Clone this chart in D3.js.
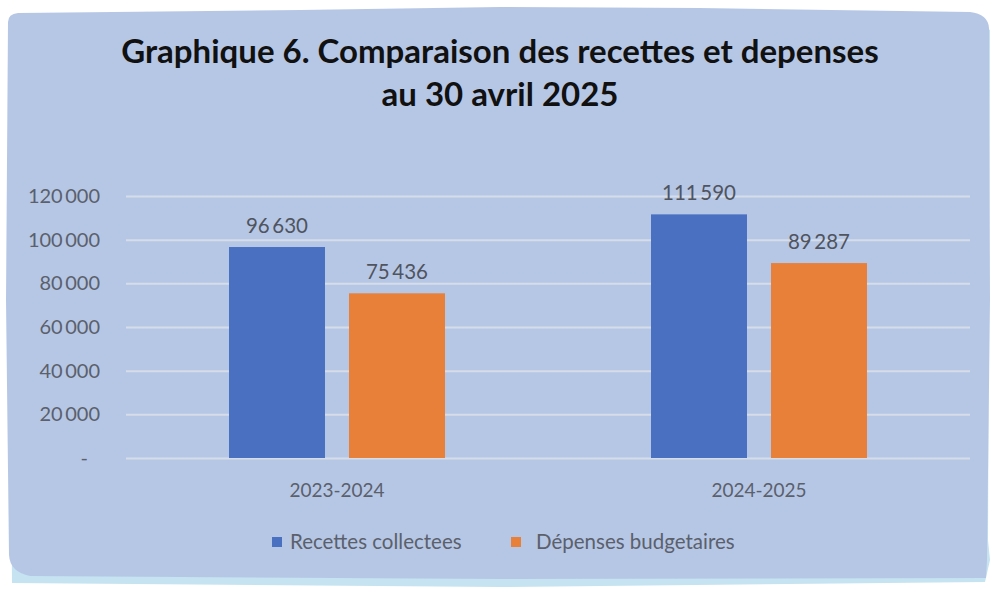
<!DOCTYPE html>
<html><head><meta charset="utf-8">
<script src="https://cdn.jsdelivr.net/npm/d3@7"></script>
<style>
body{margin:0;background:#fff;}
svg{display:block;}
text{font-family:Lato,"Open Sans",sans-serif;}
</style></head>
<body>
<svg id="c" width="1000" height="595"></svg>
<script>
const titleLines = ["Graphique 6. Comparaison des recettes et depenses", "au 30 avril 2025"];
const categories = ["2023-2024", "2024-2025"];
const seriesNames = ["Recettes collectees", "Dépenses budgetaires"];
const recettes = [96630, 111590];
const depenses = [75436, 89287];
const yTicks = [0, 20000, 40000, 60000, 80000, 100000, 120000];
const colors = ["#4a70c2", "#e8803a"];

const svg = d3.select("#c");
// torn-paper panel
svg.append("path")
  .attr("d", "M12,583 L500,587 L985,582 L990,560 L988,540 L990,30 L975,20 L500,8 L20,20 L8,40 L12,583 Z")
  .attr("fill", "#c5e3f0");
svg.append("path")
  .attr("d", "M8,22 Q8,14 18,13 L300,10 L500,7 L700,8 L970,12 Q988,14 989,28 L990,300 L987,560 L986,578 L500,579 L30,576 Q10,572 9,555 L6,300 Z")
  .attr("fill", "#b6c7e6");

const fmt = v => v === 0 ? "-" : d3.format(",")(v).replace(/,/g, "\u2009");

svg.selectAll(".title").data(titleLines).join("text")
  .attr("x", 500).attr("y", (d, i) => 63 + i * 43)
  .attr("text-anchor", "middle")
  .attr("font-size", 33).attr("font-weight", "bold").attr("fill", "#111")
  .text(d => d);

const x0 = d3.scaleBand().domain(categories).range([126, 970]).paddingInner(0).paddingOuter(0);
const x1 = d3.scaleBand().domain(seriesNames).range([x0.bandwidth() / 2 - 108, x0.bandwidth() / 2 + 108]).paddingInner(0.2);
const y = d3.scaleLinear().domain([0, 120000]).range([458, 196]);

const yAxis = d3.axisLeft(y).tickValues(yTicks).tickSize(-(970 - 126)).tickFormat(fmt);
const gy = svg.append("g").attr("transform", "translate(126,0)").call(yAxis);
gy.select(".domain").remove();
gy.selectAll(".tick line").attr("stroke", "#d6dde9").attr("stroke-width", 2);
gy.selectAll(".tick text").attr("x", d => d === 0 ? -38 : -26).attr("font-size", 20).attr("fill", "#5b606b");

const xAxis = d3.axisBottom(x0).tickSize(0);
const gx = svg.append("g").attr("transform", "translate(0,458)").call(xAxis);
gx.select(".domain").remove();
gx.selectAll(".tick text").attr("dy", 0).attr("y", 39).attr("font-size", 19).attr("fill", "#5b606b");

const data = categories.map((c, i) => ({ cat: c, vals: [recettes[i], depenses[i]] }));
const groups = svg.selectAll(".grp").data(data).join("g")
  .attr("transform", d => `translate(${x0(d.cat)},0)`);
groups.selectAll("rect").data(d => d.vals.map((v, j) => ({ v, s: seriesNames[j], j }))).join("rect")
  .attr("x", d => x1(d.s)).attr("width", x1.bandwidth())
  .attr("y", d => y(d.v)).attr("height", d => y(0) - y(d.v))
  .attr("fill", d => colors[d.j]);
groups.selectAll(".lbl").data(d => d.vals.map((v, j) => ({ v, s: seriesNames[j], j }))).join("text")
  .attr("class", "lbl")
  .attr("x", d => x1(d.s) + x1.bandwidth() / 2).attr("y", d => y(d.v) - 14)
  .attr("text-anchor", "middle").attr("font-size", 20.5).attr("fill", "#4f545e")
  .text(d => fmt(d.v));

// legend
const legX = [272, 511];
const textX = [290, 536];
const leg = svg.selectAll(".leg").data(seriesNames).join("g");
leg.append("rect").attr("x", (d, i) => legX[i]).attr("y", 537).attr("width", 10).attr("height", 10)
  .attr("fill", (d, i) => colors[i]);
leg.append("text").attr("x", (d, i) => textX[i]).attr("y", 549)
  .attr("font-size", 20.5).attr("fill", "#5b606b").text(d => d);
</script>
</body></html>
